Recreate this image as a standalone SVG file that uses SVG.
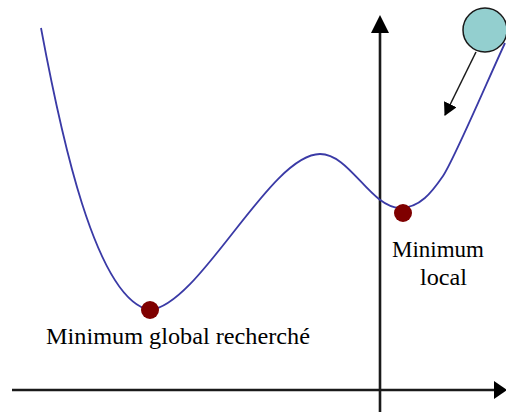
<svg xmlns="http://www.w3.org/2000/svg" width="506" height="412" viewBox="0 0 506 412">
<style>
.axis{stroke:#1a1a1a;stroke-width:2.6;fill:none}
.curve{stroke:#3a3aa6;stroke-width:1.8;fill:none}
.dot{fill:#7f0000}
.lbl{font-size:24px;fill:#000}
</style>
<defs>
<marker id="ah" markerWidth="14" markerHeight="14" refX="12" refY="7" orient="auto" markerUnits="userSpaceOnUse">
<path d="M0,0 L13,7 L0,14 Z" fill="#000"/>
</marker>
</defs>
<rect width="506" height="412" fill="#fff"/>
<g id="connectors">
<line class="axis" x1="12" y1="390" x2="494" y2="390"/>
<path d="M494,381 L507,390 L494,399 Z" fill="#000"/>
<line class="axis" x1="380" y1="412" x2="380" y2="30"/>
<path d="M371,33 L380,15 L389,33 Z" fill="#000"/>
<path class="curve" d="M41,28 C60,130 95,300 150,310 C200,305 270,154 320,154 C350,154 370,207 400,208 C420,208 432,192 443,176 S490,75 505,43"/>
<line x1="476" y1="52" x2="445" y2="115" stroke="#1a1a1a" stroke-width="1.5" marker-end="url(#ah)"/>
</g>
<g id="ball">
<circle cx="485" cy="30" r="22" fill="#93cfcf" stroke="#1a1a1a" stroke-width="1.5"/>
</g>
<g id="global-min">
<circle class="dot" cx="150" cy="310" r="9"/>
<text class="lbl" font-family="Liberation Serif, DejaVu Serif, serif" x="46" y="344" textLength="264" lengthAdjust="spacingAndGlyphs">Minimum global recherché</text>
</g>
<g id="local-min">
<circle class="dot" cx="403" cy="213" r="9"/>
<text class="lbl" font-family="Liberation Serif, DejaVu Serif, serif" x="392" y="257" textLength="92" lengthAdjust="spacingAndGlyphs">Minimum</text>
<text class="lbl" font-family="Liberation Serif, DejaVu Serif, serif" x="420" y="285" textLength="47" lengthAdjust="spacingAndGlyphs">local</text>
</g>
</svg>
